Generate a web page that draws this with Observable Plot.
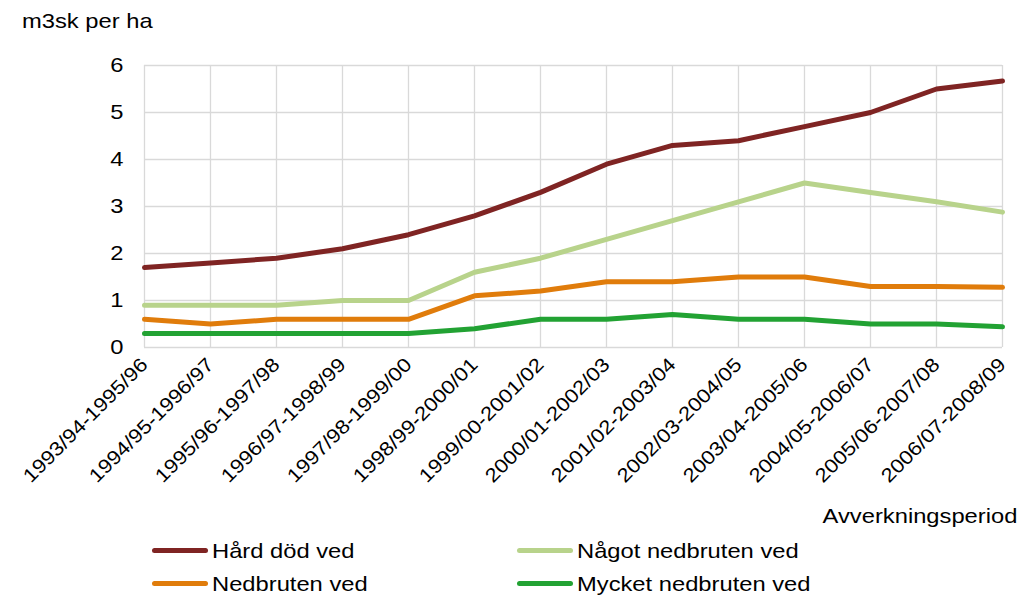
<!DOCTYPE html>
<html><head><meta charset="utf-8">
<script src="https://cdn.jsdelivr.net/npm/d3@7"></script>
<script src="https://cdn.jsdelivr.net/npm/@observablehq/plot@0.6"></script>
<style>
body{margin:0;background:#fff;font-family:"Liberation Sans",Arial,sans-serif;color:#000;}
#wrap{position:relative;width:1034px;height:597px;overflow:hidden;}
.st{display:inline-block;transform:scaleX(1.13);transform-origin:left center;white-space:nowrap;}
#ylab{position:absolute;left:22px;top:9px;font-size:21px;}
#xlab{position:absolute;right:17px;top:504px;font-size:21px;}
#xlab .st{transform-origin:right center;}
#legend{position:absolute;left:152px;top:537px;font-size:21px;display:grid;grid-template-columns:365px 400px;row-gap:6px;}
.item{display:flex;align-items:center;height:27px;}
.sw{width:56px;height:5px;border-radius:3px;margin-right:4px;flex:none;}
</style></head>
<body><div id="wrap"><div id="ylab"><span class="st">m3sk per ha</span></div><div id="chart"></div><div id="xlab"><span class="st">Avverkningsperiod</span></div><div id="legend"></div></div>
<script>
const periods = ["1993/94-1995/96","1994/95-1996/97","1995/96-1997/98","1996/97-1998/99","1997/98-1999/00","1998/99-2000/01","1999/00-2001/02","2000/01-2002/03","2001/02-2003/04","2002/03-2004/05","2003/04-2005/06","2004/05-2006/07","2005/06-2007/08","2006/07-2008/09"];
const seriesNames = ["Hård död ved","Något nedbruten ved","Nedbruten ved","Mycket nedbruten ved"];
const seriesColors = ["#7f2423","#b8d38b","#e07c0b","#22a233"];
const hardDod = [1.7,1.8,1.9,2.1,2.4,2.8,3.3,3.9,4.3,4.4,4.7,5.0,5.5,5.67];
const nagot = [0.9,0.9,0.9,1.0,1.0,1.6,1.9,2.3,2.7,3.1,3.5,3.3,3.1,2.88];
const nedbruten = [0.6,0.5,0.6,0.6,0.6,1.1,1.2,1.4,1.4,1.5,1.5,1.3,1.3,1.28];
const mycket = [0.3,0.3,0.3,0.3,0.3,0.4,0.6,0.6,0.7,0.6,0.6,0.5,0.5,0.44];
const yTicks = [0,1,2,3,4,5,6];

const all = [hardDod,nagot,nedbruten,mycket];
const data = [];
all.forEach((arr,si)=>arr.forEach((v,i)=>data.push({period:periods[i],series:seriesNames[si],value:v})));

const plot = Plot.plot({
  width:1034, height:500,
  marginLeft:144, marginRight:32, marginTop:65, marginBottom:153,
  style:{fontFamily:"'Liberation Sans', Arial, sans-serif", fontSize:"17px", color:"#000", background:"#fff"},
  x:{type:"point", domain:periods, padding:0, label:null},
  y:{domain:[0,6], label:null},
  color:{domain:seriesNames, range:seriesColors},
  marks:[
    Plot.gridY(yTicks,{stroke:"#d9d9d9", strokeOpacity:1, strokeWidth:1.3}),
    Plot.gridX(periods,{stroke:"#d9d9d9", strokeOpacity:1, strokeWidth:1.3}),
    Plot.axisY(yTicks,{tickSize:0, tickPadding:21, fontSize:21, label:null, className:"yax"}),
    Plot.axisX({tickSize:0, tickRotate:-45, tickPadding:14, fontSize:19.5, label:null, className:"xax"}),
    Plot.line(data,{x:"period", y:"value", z:"series", stroke:"series", strokeWidth:5, strokeLinejoin:"round"})
  ]
});
document.getElementById("chart").appendChild(plot);
// widen glyphs horizontally to match the stretched reference text
plot.querySelectorAll("text").forEach(t=>{
  const len = t.getComputedTextLength();
  if (len>0){ t.setAttribute("textLength", (len*1.13).toFixed(1)); t.setAttribute("lengthAdjust","spacingAndGlyphs"); }
});

const lg = document.getElementById("legend");
[0,1,2,3].forEach(i=>{
  const d=document.createElement("div");d.className="item";
  d.innerHTML=`<span class="sw" style="background:${seriesColors[i]}"></span><span class="st">${seriesNames[i]}</span>`;
  lg.appendChild(d);
});
</script></body></html>
